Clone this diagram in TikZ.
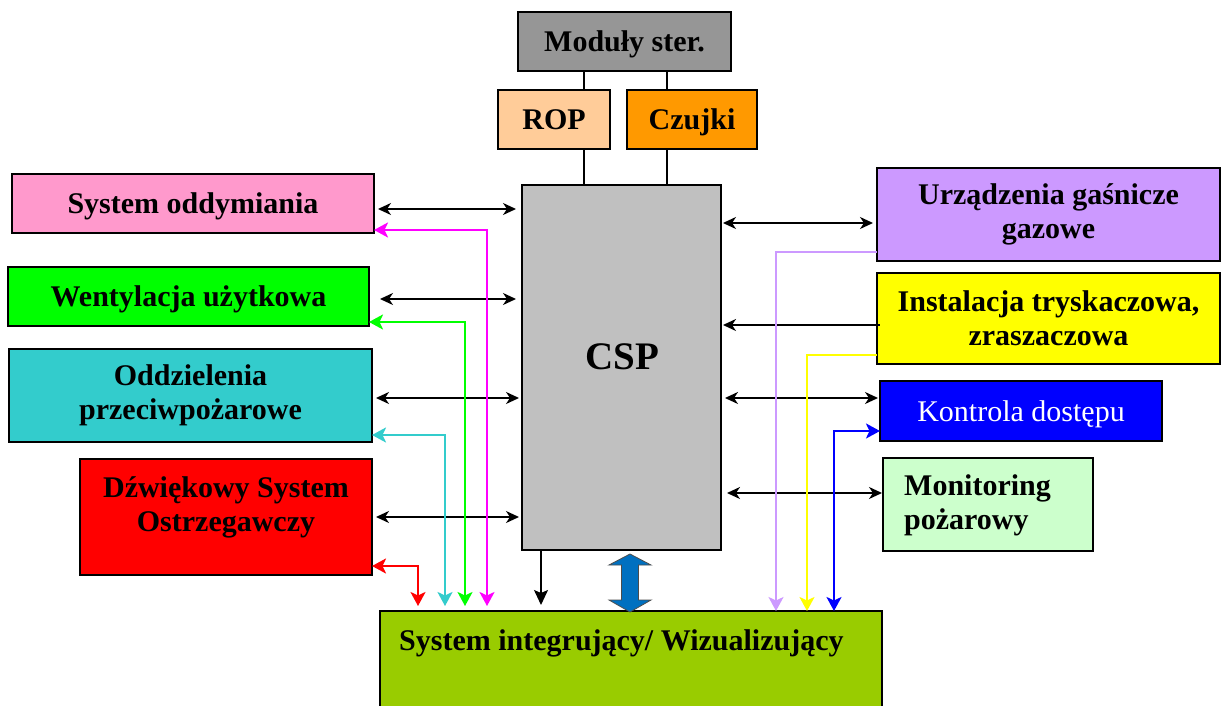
\documentclass[tikz,border=0pt]{standalone}
\usepackage{fontspec}
\setmainfont{Liberation Serif}
\usetikzlibrary{arrows.meta,calc}
\definecolor{cmod}{HTML}{969696}
\definecolor{crop}{HTML}{FFCC99}
\definecolor{cczu}{HTML}{FF9900}
\definecolor{ccsp}{HTML}{C0C0C0}
\definecolor{csod}{HTML}{FF99CC}
\definecolor{cwen}{HTML}{00FF00}
\definecolor{codd}{HTML}{33CCCC}
\definecolor{cdzw}{HTML}{FF0000}
\definecolor{csint}{HTML}{99CC00}
\definecolor{curz}{HTML}{CC99FF}
\definecolor{cins}{HTML}{FFFF00}
\definecolor{ckon}{HTML}{0000FF}
\definecolor{cmon}{HTML}{CCFFCC}
\definecolor{cmag}{HTML}{FF00FF}
\definecolor{cdbl}{HTML}{0070C0}
\newcommand\bxfont{\fontsize{30}{34}\selectfont\bfseries}
\newcommand\rgfont{\fontsize{30}{34}\selectfont}
\begin{document}
\begin{tikzpicture}[x=1pt,y=-1pt,
  >={Stealth[length=13pt,width=12pt,inset=4pt]},
  box/.style={draw=black, line width=1.5pt, inner sep=0pt, outer sep=0pt,
    anchor=north west, font=\bxfont, align=center},
  one/.style={text height=20pt, text depth=0pt},
  txt/.style={inner sep=0pt, font=\bxfont, align=center},
  ba/.style={line width=2pt, draw=black},
  cl/.style={line width=2.2pt, >={Stealth[length=14pt,width=15pt,inset=3.5pt]}},
  thinl/.style={line width=1.3pt, draw=black}]
\useasboundingbox (0,0) rectangle (1221,706);
\fill[white] (0,0) rectangle (1221,706);

% boxes
\node[box, one, fill=cmod, minimum width=213pt, minimum height=59pt] (mod) at (518,12) {Moduły ster.};
\node[box, one, fill=crop, minimum width=112pt, minimum height=59pt] (rop) at (498,90) {ROP};
\node[box, one, fill=cczu, minimum width=130pt, minimum height=59pt] (czu) at (627,90) {Czujki};
\node[box, fill=ccsp, minimum width=199pt, minimum height=365pt] (csp) at (522,185) {};
\node[txt, font=\fontsize{39}{44}\selectfont\bfseries] (csptxt) at (622.5,357) {CSP};

\node[box, one, fill=csod, minimum width=362pt, minimum height=59pt] (sod) at (12,174) {System oddymiania};
\node[box, one, fill=cwen, minimum width=361pt, minimum height=59pt] (wen) at (8,267) {Wentylacja użytkowa};
\node[box, fill=codd, minimum width=363pt, minimum height=93pt] (odd) at (9,349) {Oddzielenia\\przeciwpożarowe};
\node[box, fill=cdzw, minimum width=292pt, minimum height=116pt] (dzw) at (80,459) {};
\node[txt] (dzwtxt) at (226,507) {Dźwiękowy System\\Ostrzegawczy};

\node[box, fill=csint, minimum width=502pt, minimum height=110pt] (sint) at (380,611) {};
\node[txt, anchor=base west] (sinttxt) at (399,650) {System integrujący/ Wizualizujący};

\node[box, fill=curz, minimum width=343pt, minimum height=93pt] (urz) at (877,168) {Urządzenia gaśnicze\\gazowe};
\node[box, fill=cins, minimum width=343pt, minimum height=91pt] (ins) at (877,273) {Instalacja tryskaczowa,\\zraszaczowa};
\node[box, one, fill=ckon, minimum width=282pt, minimum height=60pt, font=\rgfont, text=white] (kon) at (880,381) {Kontrola dostępu};
\node[box, fill=cmon, minimum width=210pt, minimum height=93pt] (mon) at (883,458) {};
\node[txt, anchor=west, align=left] (montxt) at (904,505) {Monitoring\\pożarowy};

% top connections
\draw[thinl] (mod.south -| 584,0) -- (rop.north -| 584,0);
\draw[thinl] (mod.south -| 667,0) -- (czu.north -| 667,0);
\draw[thinl] (rop.south -| 584,0) -- (csp.north -| 584,0);
\draw[thinl] (czu.south -| 667,0) -- (csp.north -| 667,0);

% left black arrows
\draw[ba,<->] ($(sod.east |- 0,209)+(4,0)$) -- ($(csp.west |- 0,209)+(-6,0)$);
\draw[ba,<->] ($(wen.east |- 0,299)+(11,0)$) -- ($(csp.west |- 0,299)+(-6,0)$);
\draw[ba,<->] ($(odd.east |- 0,398)+(4,0)$) -- ($(csp.west |- 0,398)+(-3,0)$);
\draw[ba,<->] ($(dzw.east |- 0,517)+(4,0)$) -- ($(csp.west |- 0,517)+(-3,0)$);

% left coloured connectors
\draw[cl, draw=cmag, <->] (sod.east |- 0,230) -| ($(sint.north -| 487,0)+(0,-5)$);
\draw[cl, draw=cwen, <->] (wen.east |- 0,322) -| ($(sint.north -| 465,0)+(0,-5)$);
\draw[cl, draw=codd, <->] (odd.east |- 0,435) -| ($(sint.north -| 445,0)+(0,-5)$);
\draw[cl, draw=cdzw, <->] (dzw.east |- 0,566) -| ($(sint.north -| 418,0)+(0,-5)$);

% CSP down arrow
\draw[line width=1.6pt, ->, >={Stealth[length=15pt,width=14pt,inset=3pt]}] (csp.south -| 541,0) -- ($(sint.north -| 541,0)+(0,-6)$);

% blue double arrow
\coordinate (dac) at (630,583);
\filldraw[fill=cdbl, draw=black!70, line width=0.8pt]
  ($(dac)+(0,-29)$) -- ($(dac)+(21,-18)$) -- ($(dac)+(8.5,-18)$) -- ($(dac)+(8.5,17)$)
  -- ($(dac)+(21,17)$) -- ($(dac)+(0,29)$) -- ($(dac)+(-21,17)$) -- ($(dac)+(-8.5,17)$)
  -- ($(dac)+(-8.5,-18)$) -- ($(dac)+(-21,-18)$) -- cycle;

% right black arrows
\draw[ba,<->] ($(csp.east |- 0,223)+(2,0)$) -- ($(urz.west |- 0,223)+(-4,0)$);
\draw[ba,<-] ($(csp.east |- 0,325)+(2,0)$) -- ($(ins.west |- 0,325)+(3,0)$);
\draw[ba,<->] ($(csp.east |- 0,398)+(4,0)$) -- ($(kon.west |- 0,398)+(-2,0)$);
\draw[ba,<->] ($(csp.east |- 0,493)+(6,0)$) -- ($(mon.west |- 0,493)+(-1,0)$);

% right coloured connectors
\draw[cl, line width=1.8pt, draw=curz, ->] (urz.west |- 0,252) -| (sint.north -| 776,0);
\draw[cl, draw=cins, ->] (ins.west |- 0,355) -| (sint.north -| 807,0);
\draw[cl, draw=ckon, <->] (sint.north -| 834,0) |- (kon.west |- 0,431);
\end{tikzpicture}
\end{document}
